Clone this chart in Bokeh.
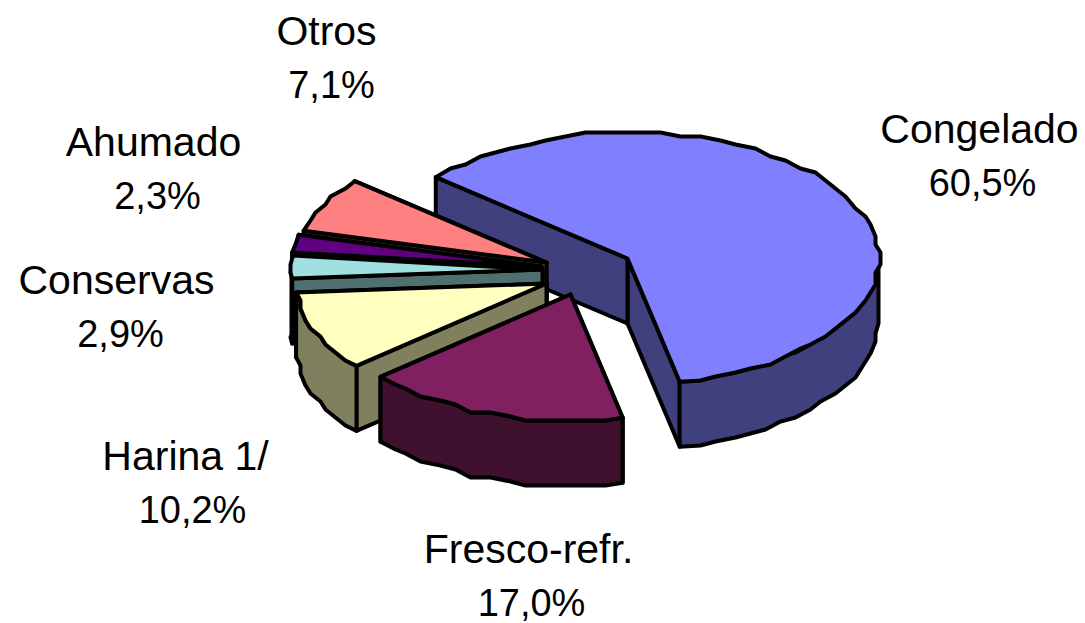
import math
from bokeh.plotting import figure
from bokeh.models import Range1d
from bokeh.core.properties import value
from bokeh.embed import file_html
from bokeh.resources import INLINE

names = ["Congelado", "Fresco-refr.", "Harina 1/", "Conservas", "Ahumado", "Otros"]
shares = [60.5, 17.0, 10.2, 2.9, 2.3, 7.1]
pct_labels = ["60,5%", "17,0%", "10,2%", "2,9%", "2,3%", "7,1%"]

top_colors = ["#8080FF", "#802060", "#FFFFC0", "#A0E0E0", "#600080", "#FF8080"]
side_colors = ["#40407F", "#40102F", "#80805F", "#507070", "#300040", "#7F4040"]

W, H = 1085, 623
RX, RY, DEPTH = 251, 126, 65
START = 139.8
tips = [(627, 258), (570, 294), (546, 283), (542, 269), (541, 266), (546, 262)]
draw_order = [0, 5, 4, 3, 2, 1]
name_pos = [(979, 128), (528, 548), (185, 455), (116, 279), (153, 141), (326, 30)]
pct_pos = [(982, 182), (531, 602), (192, 509), (120, 333), (157, 195), (331, 84)]

p = figure(width=W, height=H, output_backend="svg", toolbar_location=None,
           x_range=Range1d(0, W), y_range=Range1d(H, 0), min_border=0)
p.axis.visible = False
p.grid.visible = False
p.outline_line_color = None


def jag(v, step):
    return round(v / step) * step


def rim(tip, a0, a1):
    # outline points of the elliptical rim, clockwise from a0 to a1
    n = max(2, int(abs(a0 - a1) / 4.5) + 1)
    pts = []
    for i in range(n + 1):
        a = math.radians(a0 + (a1 - a0) * i / n)
        x = tip[0] + RX * math.cos(a)
        y = tip[1] - RY * math.sin(a)
        if 0 < i < n:
            x, y = jag(x, 5), jag(y, 4)
        pts.append((x, y))
    return pts


def poly(pts, color):
    p.patch([q[0] for q in pts], [q[1] for q in pts], fill_color=color,
            line_color="black", line_width=4, line_join="round")


def down(q):
    return (q[0], q[1] + DEPTH)


angles = []
a = START
for s in shares:
    b = a - s * 3.6
    angles.append((a, b))
    a = b

for i in draw_order:
    a0, a1 = angles[i]
    tip = tips[i]
    r0 = rim(tip, a0, a0)[0]
    r1 = rim(tip, a1, a1)[0]
    for r in (r1, r0):
        poly([tip, r, down(r), down(tip)], side_colors[i])
    # front part of the rim wall: only angles with a negative sine face the viewer
    s0, s1 = max(-180, a1), min(0, a0)
    if s1 > s0:
        pts = rim(tip, s1, s0)
        poly(pts + [down(q) for q in reversed(pts)], side_colors[i])
    poly([tip] + rim(tip, a0, a1), top_colors[i])

for i in range(len(names)):
    p.text([name_pos[i][0]], [name_pos[i][1]], text=[names[i]], text_align="center",
           text_baseline="alphabetic", text_font=value("Liberation Sans"),
           text_font_size="41px", text_color="black")
    p.text([pct_pos[i][0]], [pct_pos[i][1]], text=[pct_labels[i]], text_align="center",
           text_baseline="alphabetic", text_font=value("Liberation Sans"),
           text_font_size="38px", text_color="black")

open("out.html", "w").write(file_html(p, INLINE))
